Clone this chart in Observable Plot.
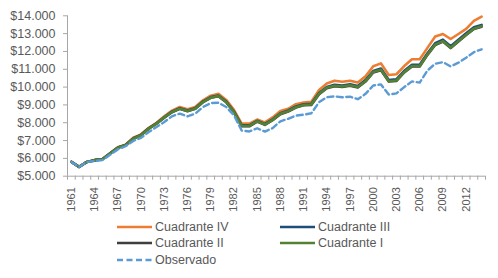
<!DOCTYPE html>
<html><head><meta charset="utf-8">
<script src="https://cdn.jsdelivr.net/npm/d3@7"></script>
<script src="https://cdn.jsdelivr.net/npm/@observablehq/plot@0.6"></script>
<style>
body{margin:0;background:#fff;font-family:"Liberation Sans",Arial,sans-serif}
#wrap{position:relative;width:498px;height:278px;overflow:hidden}
#chart svg{display:block}
.item{position:absolute;height:16px;display:flex;align-items:center;font-size:12.5px;color:#595959;white-space:nowrap}
.item svg{margin-right:3px}
</style></head><body>
<div id="wrap"><div id="chart"></div><div id="legend"></div></div>
<script>
const years = d3.range(1961, 2015);
const cuadranteIV = [5800,5520,5800,5900,5960,6290,6630,6770,7160,7350,7720,8000,8360,8680,8880,8750,8880,9260,9520,9630,9280,8720,7950,7950,8180,8020,8300,8660,8780,9040,9130,9180,9840,10200,10360,10300,10360,10260,10600,11170,11330,10680,10720,11180,11560,11560,12200,12840,12980,12700,12980,13270,13720,13960];
const cuadranteIII = [5800,5520,5800,5900,5955,6280,6615,6755,7130,7320,7690,7970,8310,8625,8815,8685,8815,9185,9440,9530,9190,8630,7850,7850,8110,7930,8190,8530,8690,8910,9040,9060,9670,10010,10130,10090,10160,10060,10390,10900,11040,10400,10440,10910,11250,11250,11900,12460,12660,12290,12660,13020,13360,13490];
const cuadranteII = [5800,5520,5800,5900,5950,6270,6600,6740,7105,7295,7665,7945,8280,8590,8780,8650,8780,9150,9400,9490,9150,8590,7800,7800,8060,7880,8140,8480,8630,8850,8980,9000,9600,9940,10050,10010,10080,9980,10310,10820,10950,10310,10350,10820,11160,11160,11810,12360,12560,12190,12560,12920,13260,13390];
const cuadranteI = [5800,5520,5800,5900,5950,6270,6600,6740,7110,7300,7670,7950,8290,8600,8790,8660,8790,9160,9410,9500,9160,8600,7820,7820,8080,7900,8160,8500,8650,8870,9000,9020,9620,9960,10070,10030,10100,10000,10330,10840,10970,10330,10370,10840,11180,11180,11830,12380,12580,12210,12580,12940,13280,13410];
const observado = [5800,5520,5800,5850,5900,6200,6500,6680,6980,7150,7480,7760,8040,8360,8510,8360,8510,8880,9100,9120,8880,8420,7560,7510,7690,7500,7700,8080,8220,8400,8450,8530,9150,9430,9480,9430,9460,9320,9620,10090,10150,9580,9650,10000,10320,10250,10930,11310,11400,11160,11370,11650,11960,12120];
const seriesNames = ["Cuadrante IV","Cuadrante III","Cuadrante II","Cuadrante I","Observado"];
const seriesColors = ["#ED7D31","#1F4E79","#3F3F3F","#548235","#5B9BD5"];
const yTicks = d3.range(5000, 14001, 1000);
const labelYears = d3.range(1961, 2013, 3);

const seriesValues = [cuadranteIV, cuadranteIII, cuadranteII, cuadranteI, observado];
const rows = seriesValues.flatMap((vals, i) => vals.map((v, j) => ({serie: seriesNames[i], year: years[j], value: v})));
const boundaries = d3.range(1960.5, 2015, 1);
const loc = d3.formatLocale({decimal: ",", thousands: ".", grouping: [3], currency: ["$", ""]});
const fmt = loc.format("$,.0f");

const lineFor = (name, opts) => Plot.line(rows.filter(d => d.serie === name), {x: "year", y: "value", stroke: seriesColors[seriesNames.indexOf(name)], strokeLinejoin: "round", ...opts});

const chart = Plot.plot({
  width: 498, height: 218,
  marginLeft: 67, marginRight: 13, marginTop: 15.3, marginBottom: 42.3,
  style: {fontFamily: "'Liberation Sans', Arial, sans-serif", color: "#595959", background: "#fff"},
  x: {type: "linear", domain: [1960.5, 2014.5]},
  y: {domain: [5000, 14000]},
  marks: [
    Plot.axisY({ticks: yTicks, tickFormat: fmt, tickSize: 4, tickPadding: 8, fontSize: 12.5, stroke: "#a6a6a6", fill: "#595959", label: null}),
    Plot.axisX({ticks: boundaries, tickFormat: () => "", tickSize: 4, stroke: "#a6a6a6", label: null}),
    Plot.axisX({ticks: labelYears, tickFormat: d => String(d), tickSize: 0, tickPadding: 11, tickRotate: -90, fontSize: 11, fill: "#595959", label: null}),
    Plot.ruleX([1960.5], {stroke: "#a6a6a6"}),
    Plot.ruleY([5000], {stroke: "#a6a6a6"}),
    lineFor("Cuadrante IV", {strokeWidth: 2.6}),
    lineFor("Cuadrante III", {strokeWidth: 2.6}),
    lineFor("Cuadrante II", {strokeWidth: 2.6}),
    lineFor("Cuadrante I", {strokeWidth: 2.6}),
    lineFor("Observado", {strokeWidth: 2.4, strokeDasharray: "6,3.5"})
  ]
});
document.getElementById("chart").appendChild(chart);

// legend
const legendPos = [[117, 226.7], [280, 226.7], [117, 243.3], [280, 243.3], [117, 260]];
const leg = document.getElementById("legend");
seriesNames.forEach((name, i) => {
  const [x, y] = legendPos[i];
  const div = document.createElement("div");
  div.className = "item";
  div.style.left = x + "px";
  div.style.top = (y - 8) + "px";
  const dash = name === "Observado" ? ' stroke-dasharray="6,3.5"' : "";
  div.innerHTML = `<svg width="35" height="6"><line x1="0" x2="35" y1="3" y2="3" stroke="${seriesColors[i]}" stroke-width="2.6"${dash}/></svg><span>${name}</span>`;
  leg.appendChild(div);
});
</script></body></html>
